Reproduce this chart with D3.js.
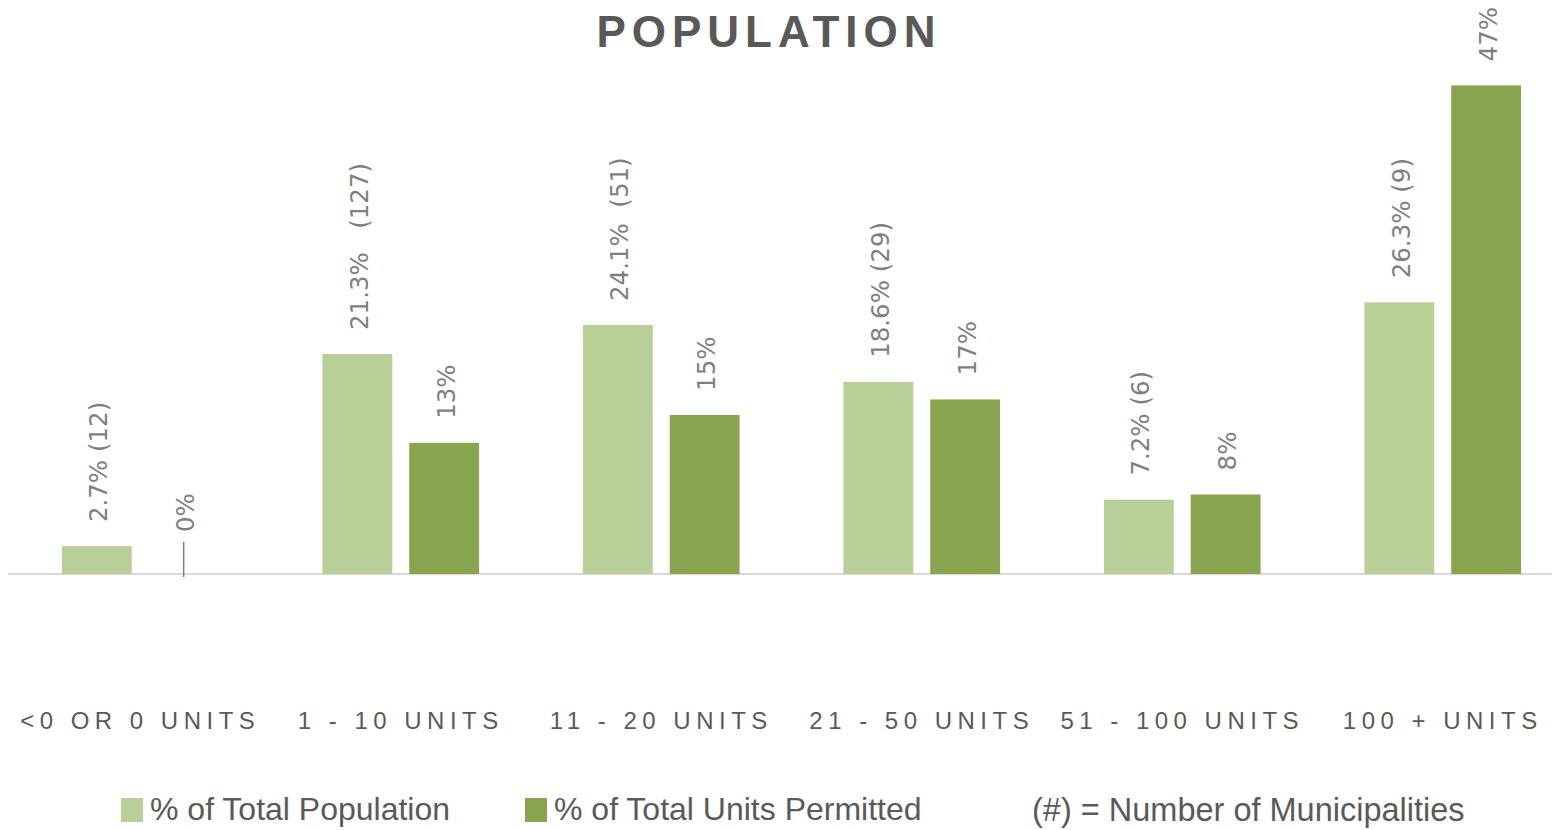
<!DOCTYPE html>
<html>
<head>
<meta charset="utf-8">
<script src="https://cdn.jsdelivr.net/npm/d3@7"></script>
<style>
  html, body { margin: 0; padding: 0; background: #fff; overflow: hidden; }
  svg { display: block; }
</style>
</head>
<body>
<svg id="chart"></svg>
<script>
// categories along the x axis
const categories = ["<0 OR 0 UNITS", "1 - 10 UNITS", "11 - 20 UNITS", "21 - 50 UNITS", "51 - 100 UNITS", "100 + UNITS"];
// % of total population (light bars)
const popShare = [2.7, 21.3, 24.1, 18.6, 7.2, 26.3];
// number of municipalities, shown in brackets
const municipalities = [12, 127, 51, 29, 6, 9];
// extra spacing used between value and count in the labels
const labelGaps = [" ", "   ", "  ", " ", " ", " "];
// % of total units permitted (dark bars)
const unitsShare = [0, 12.7, 15.4, 16.9, 7.7, 47.3];
const seriesKeys = ["pop", "units"];
const seriesNames = ["% of Total Population", "% of Total Units Permitted"];
const seriesColors = ["#b9cf98", "#88a44e"];

const W = 1552, H = 830;
const svg = d3.select("#chart").attr("width", W).attr("height", H);

const baseY = 574;
const x0 = d3.scaleBand().domain(categories).range([10, 1573]).paddingInner(0).paddingOuter(0);
const x1 = d3.scaleBand().domain(seriesKeys).range([0, x0.bandwidth()])
  .paddingInner(0.195).paddingOuter(0.598);
const y = d3.scaleLinear().domain([0, 50]).range([baseY, baseY - 516.5]);

// title
svg.append("text")
  .attr("x", 769).attr("y", 47)
  .attr("text-anchor", "middle")
  .style("font-family", "Liberation Sans, Arial, sans-serif")
  .style("font-weight", "bold")
  .style("font-size", "44px")
  .style("letter-spacing", "6px")
  .style("fill", "#595959")
  .text("POPULATION");

// rows of data for bars
const rows = categories.map((c, i) => ({
  cat: c,
  values: [
    { key: "pop", value: popShare[i], label: `${popShare[i]}%${labelGaps[i]}(${municipalities[i]})` },
    { key: "units", value: unitsShare[i], label: `${Math.round(unitsShare[i])}%` },
  ],
}));

// baseline
svg.append("line")
  .attr("x1", 8).attr("x2", W)
  .attr("y1", baseY).attr("y2", baseY)
  .attr("stroke", "#d9d9d9").attr("stroke-width", 2);

const groups = svg.selectAll("g.group")
  .data(rows)
  .join("g")
  .attr("class", "group")
  .attr("transform", (d) => `translate(${x0(d.cat)},0)`);

groups.selectAll("rect")
  .data((d) => d.values)
  .join("rect")
  .attr("x", (d) => x1(d.key))
  .attr("width", x1.bandwidth())
  .attr("y", (d) => y(d.value))
  .attr("height", (d) => baseY - y(d.value))
  .attr("fill", (d, i) => seriesColors[i]);

// leader line for zero values
groups.selectAll("line.leader")
  .data((d) => d.values.filter((v) => v.value === 0))
  .join("line")
  .attr("class", "leader")
  .attr("x1", (d) => x1(d.key) + x1.bandwidth() / 2)
  .attr("x2", (d) => x1(d.key) + x1.bandwidth() / 2)
  .attr("y1", baseY + 3)
  .attr("y2", baseY - 32)
  .attr("stroke", "#7f7f7f").attr("stroke-width", 1.5);

// rotated value labels
groups.selectAll("text.val")
  .data((d) => d.values)
  .join("text")
  .attr("class", "val")
  .attr("transform", (d) => {
    const cx = x1(d.key) + x1.bandwidth() / 2 + 2;
    const cy = d.value === 0 ? baseY - 42 : y(d.value) - 24;
    return `translate(${cx},${cy}) rotate(-90)`;
  })
  .attr("dominant-baseline", "central")
  .style("font-family", "DejaVu Sans, Verdana, sans-serif")
  .style("font-size", "24.5px")
  .style("fill", "#7f7f7f")
  .style("white-space", "pre")
  .attr("xml:space", "preserve")
  .text((d) => d.label);

// category labels
svg.selectAll("text.cat")
  .data(categories)
  .join("text")
  .attr("class", "cat")
  .attr("x", (d) => x0(d) + x0.bandwidth() / 2)
  .attr("y", 729)
  .attr("text-anchor", "middle")
  .style("font-family", "Liberation Sans, Arial, sans-serif")
  .style("font-size", "24px")
  .style("letter-spacing", "5.5px")
  .style("fill", "#595959")
  .text((d) => d);

// legend
const legendX = [121, 525];
const legend = svg.selectAll("g.legend")
  .data(seriesNames)
  .join("g")
  .attr("class", "legend")
  .attr("transform", (d, i) => `translate(${legendX[i]},798)`);
legend.append("rect")
  .attr("width", 22).attr("height", 24)
  .attr("fill", (d, i) => seriesColors[i]);
legend.append("text")
  .attr("x", 29).attr("y", 22)
  .style("font-family", "Liberation Sans, Arial, sans-serif")
  .style("font-size", "32px")
  .style("fill", "#595959")
  .text((d) => d);

svg.append("text")
  .attr("x", 1032).attr("y", 821)
  .style("font-family", "Liberation Sans, Arial, sans-serif")
  .style("font-size", "32.5px")
  .style("fill", "#595959")
  .text("(#) = Number of Municipalities");
</script>
</body>
</html>
